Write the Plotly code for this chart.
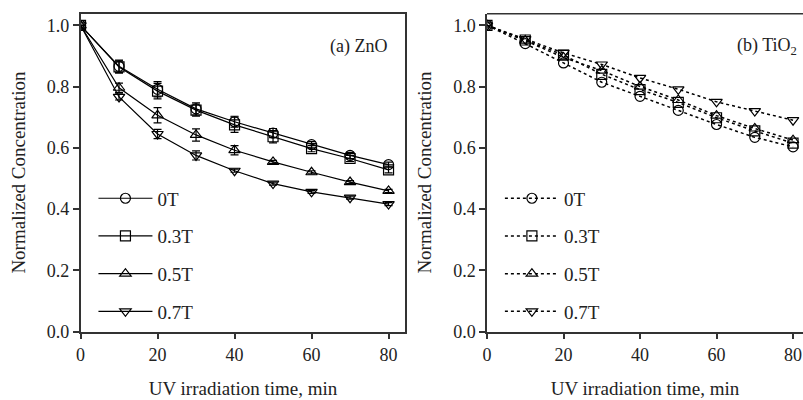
import plotly.graph_objects as go
from plotly.subplots import make_subplots

time = [0, 10, 20, 30, 40, 50, 60, 70, 80]
labels = ["0T", "0.3T", "0.5T", "0.7T"]
symbols = ["circle-open", "square-open", "triangle-up-open", "triangle-down-open"]

zno = {
    "0T":   [1.0, 0.866, 0.791, 0.727, 0.685, 0.648, 0.610, 0.575, 0.545],
    "0.3T": [1.0, 0.864, 0.785, 0.723, 0.675, 0.636, 0.597, 0.565, 0.528],
    "0.5T": [1.0, 0.796, 0.706, 0.642, 0.592, 0.554, 0.520, 0.488, 0.459],
    "0.7T": [1.0, 0.766, 0.645, 0.575, 0.525, 0.483, 0.456, 0.437, 0.416],
}
zno_err = {
    "0T":   [0, 0.02, 0.025, 0.02, 0.018, 0.015, 0.01, 0.01, 0.008],
    "0.3T": [0, 0.02, 0.025, 0.02, 0.025, 0.02, 0.01, 0.01, 0.01],
    "0.5T": [0, 0.015, 0.025, 0.02, 0.015, 0.005, 0.005, 0.005, 0.005],
    "0.7T": [0, 0.01, 0.015, 0.015, 0.005, 0.005, 0.005, 0.005, 0.005],
}
tio2 = {
    "0T":   [1.0, 0.940, 0.877, 0.814, 0.768, 0.722, 0.676, 0.634, 0.603],
    "0.3T": [1.0, 0.952, 0.903, 0.840, 0.790, 0.748, 0.698, 0.655, 0.615],
    "0.5T": [1.0, 0.950, 0.895, 0.852, 0.800, 0.756, 0.705, 0.663, 0.625],
    "0.7T": [1.0, 0.955, 0.910, 0.872, 0.828, 0.791, 0.750, 0.720, 0.690],
}

FONT = "Liberation Serif"

fig = make_subplots(rows=1, cols=2)

for lab, sym in zip(labels, symbols):
    fig.add_trace(go.Scatter(
        x=time, y=zno[lab], name=lab, mode="lines+markers",
        line=dict(color="black", width=1.2),
        marker=dict(symbol=sym, size=10, color="black", line=dict(width=1.2, color="black")),
        error_y=dict(type="data", array=zno_err[lab], visible=True, color="black", thickness=1.2, width=4),
        legend="legend", legendgroup="a" + lab,
    ), row=1, col=1)

for lab, sym in zip(labels, symbols):
    fig.add_trace(go.Scatter(
        x=time, y=tio2[lab], name=lab, mode="lines+markers",
        line=dict(color="black", width=1.5, dash="dot"),
        marker=dict(symbol=sym, size=10, color="black", line=dict(width=1.2, color="black")),
        legend="legend2", legendgroup="b" + lab,
    ), row=1, col=2)

W, H = 803, 400
ydom = [(H - 340) / H, (H - 14) / H]

axis_common = dict(
    showline=True, linecolor="#333", linewidth=1.5, ticks="outside", ticklen=6,
    tickwidth=1.5, tickcolor="#333", showgrid=False, zeroline=False,
    tickfont=dict(family=FONT, size=18, color="#222"),
)
TFONT = dict(family=FONT, size=19, color="#222")

fig.update_layout(
    width=W, height=H, margin=dict(l=0, r=0, t=0, b=0),
    paper_bgcolor="white", plot_bgcolor="white",
    font=dict(family=FONT, size=18, color="#222"),
    xaxis=dict(domain=[76 / W, 403 / W], range=[0, 84.4], tickvals=[0, 20, 40, 60, 80],
               mirror=True, title=dict(text="UV irradiation time, min", font=TFONT, standoff=18),
               **axis_common),
    yaxis=dict(domain=ydom, range=[0, 1.038], tickvals=[0, 0.2, 0.4, 0.6, 0.8, 1.0], tickformat=".1f",
               mirror=True, title=dict(text="Normalized Concentration", font=TFONT, standoff=16),
               **axis_common),
    xaxis2=dict(domain=[485 / W, 1.0], range=[0, 82.6], tickvals=[0, 20, 40, 60, 80],
                mirror=False, title=dict(text="UV irradiation time, min", font=TFONT, standoff=18),
                **axis_common),
    yaxis2=dict(domain=ydom, range=[0, 1.038], tickvals=[0, 0.2, 0.4, 0.6, 0.8, 1.0], tickformat=".1f",
                mirror=False, title=dict(text="Normalized Concentration", font=TFONT, standoff=16),
                **axis_common),
    legend=dict(x=89 / W, y=(H - 184) / H, xanchor="left", yanchor="top", bgcolor="rgba(0,0,0,0)",
                font=dict(family=FONT, size=19), tracegroupgap=10, itemwidth=54),
    legend2=dict(x=498 / W, y=(H - 184) / H, xanchor="left", yanchor="top", bgcolor="rgba(0,0,0,0)",
                 font=dict(family=FONT, size=19), tracegroupgap=10, itemwidth=54),
    showlegend=True,
)

# top border for right panel
fig.add_shape(type="line", xref="x2 domain", yref="y2 domain", x0=0, x1=1, y0=1, y1=1,
              line=dict(color="#333", width=1.5))

fig.add_annotation(text="(a) ZnO", xref="x", yref="y", x=80, y=0.93, xanchor="right",
                   showarrow=False, font=dict(family=FONT, size=18, color="#222"))
fig.add_annotation(text="(b) TiO<sub>2</sub>", xref="x2", yref="y2", x=81.5, y=0.93, xanchor="right",
                   showarrow=False, font=dict(family=FONT, size=18, color="#222"))

fig.write_html("out.html")
